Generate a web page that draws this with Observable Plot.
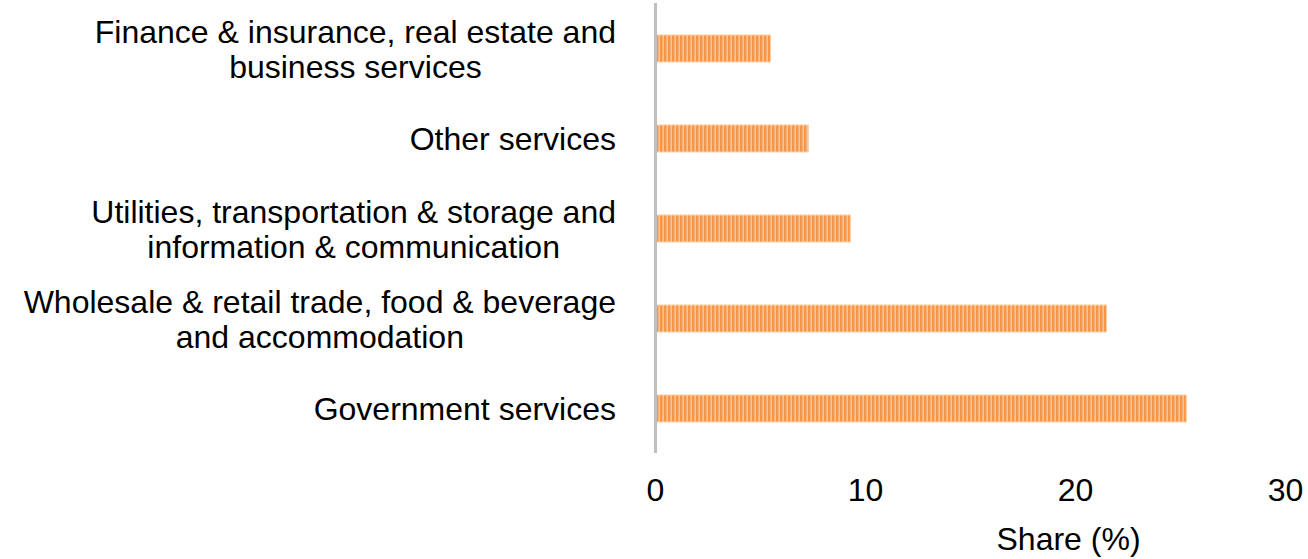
<!DOCTYPE html>
<html>
<head>
<meta charset="utf-8">
<script src="https://cdn.jsdelivr.net/npm/d3@7"></script>
<script src="https://cdn.jsdelivr.net/npm/@observablehq/plot@0.6"></script>
<style>
  html, body { margin: 0; padding: 0; background: #fff; }
  svg { display: block; }
</style>
</head>
<body>
<div id="chart"></div>
<script>
const categories = [
  "Finance & insurance, real estate and\nbusiness services",
  "Other services",
  "Utilities, transportation & storage and\ninformation & communication",
  "Wholesale & retail trade, food & beverage\nand accommodation",
  "Government services"
];
const shares = [5.5, 7.3, 9.3, 21.5, 25.3];
const xTicks = [0, 10, 20, 30];
const xLabel = "Share (%)";

const data = categories.map((c, i) => ({category: c, share: shares[i]}));

const FS = 32;
const plot = Plot.plot({
  width: 1308,
  height: 559,
  marginLeft: 655,
  marginRight: 23,
  marginTop: 3,
  marginBottom: 106,
  style: {fontFamily: "Liberation Sans, Arial, sans-serif", fontSize: FS + "px", color: "#000", background: "#fff"},
  x: {domain: [0, 30], ticks: xTicks},
  y: {domain: categories, paddingInner: 0.7, paddingOuter: 0.35},
  marks: [
    Plot.barX(data, {x: "share", y: "category", fill: "url(#stripes)", stroke: "#fbd0a8", strokeWidth: 1}),
    Plot.ruleX([0], {stroke: "#bfbfbf", strokeWidth: 3}),
    Plot.axisX({ticks: xTicks, tickSize: 0, tickPadding: 25, label: null, fontSize: FS}),
    Plot.text([xLabel], {frameAnchor: "bottom", dx: 98, dy: 86, lineAnchor: "middle", fontSize: FS, fill: "#000"}),
    Plot.axisY({tickSize: 0, tickPadding: 39, label: null, textAnchor: "middle", lineHeight: 1.1, fontSize: FS})
  ]
});

// pattern definition
const ns = "http://www.w3.org/2000/svg";
const defs = document.createElementNS(ns, "defs");
const pat = document.createElementNS(ns, "pattern");
pat.setAttribute("id", "stripes");
pat.setAttribute("patternUnits", "userSpaceOnUse");
pat.setAttribute("width", "4");
pat.setAttribute("height", "4");
const bg = document.createElementNS(ns, "rect");
bg.setAttribute("width", "4"); bg.setAttribute("height", "4"); bg.setAttribute("fill", "#fbc496");
const st = document.createElementNS(ns, "rect");
st.setAttribute("width", "2.4"); st.setAttribute("height", "4"); st.setAttribute("fill", "#f79646");
pat.appendChild(bg); pat.appendChild(st);
defs.appendChild(pat);
plot.insertBefore(defs, plot.firstChild);

document.getElementById("chart").appendChild(plot);

// right-align the centered multi-line y labels to the axis gap
const rightEdge = 655 - 39;
const svgBox = plot.getBoundingClientRect();
plot.querySelectorAll('[aria-label="y-axis tick label"] text').forEach(t => {
  const r = t.getBoundingClientRect();
  const shift = rightEdge - (r.right - svgBox.left);
  const prev = t.getAttribute("transform") || "";
  t.setAttribute("transform", `translate(${shift},0) ` + prev);
});
</script>
</body>
</html>
